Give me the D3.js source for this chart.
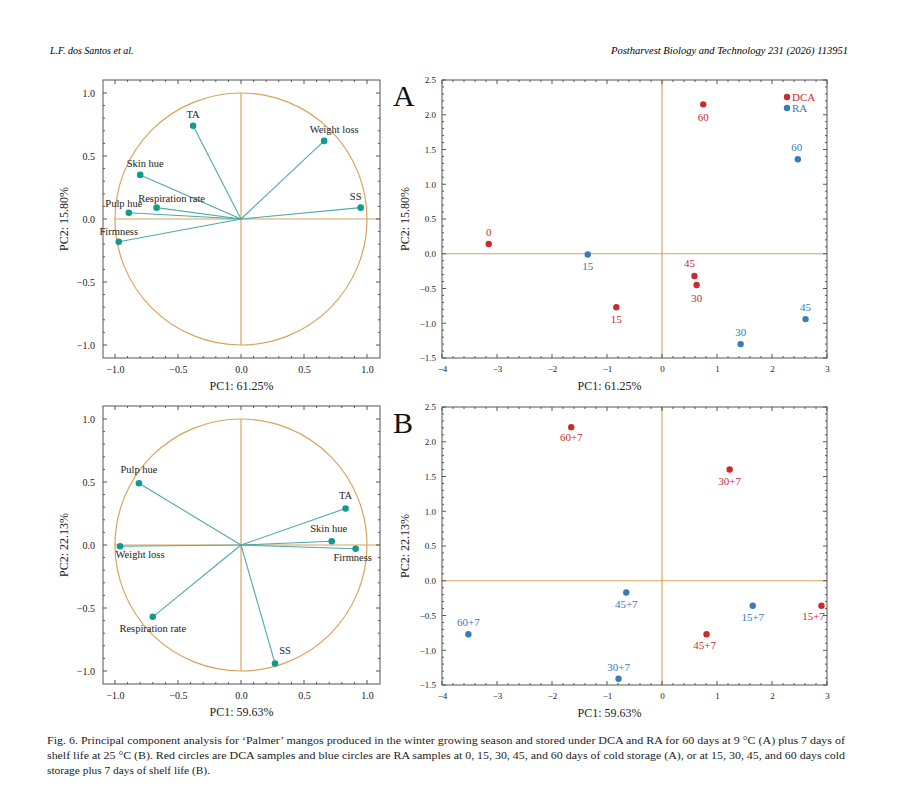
<!DOCTYPE html>
<html><head><meta charset="utf-8">
<script src="https://cdn.jsdelivr.net/npm/d3@7"></script>
<style>body{margin:0;background:#fff}svg{font-family:"Liberation Serif","DejaVu Serif",serif}</style>
</head><body><svg id="c" width="900" height="791"></svg>
<script>
const varsA = ["TA","Weight loss","Skin hue","Respiration rate","Pulp hue","SS","Firmness"];
const loadA_x = [-0.38,0.66,-0.80,-0.67,-0.89,0.95,-0.97];
const loadA_y = [0.74,0.62,0.35,0.09,0.05,0.09,-0.18];
const varsB = ["Pulp hue","TA","Skin hue","Firmness","Weight loss","Respiration rate","SS"];
const loadB_x = [-0.81,0.83,0.72,0.91,-0.96,-0.70,0.27];
const loadB_y = [0.49,0.29,0.03,-0.03,-0.01,-0.57,-0.94];
const labA_dcaNames = ["0","15","30","45","60"];
const scoreA_dca_x = [-3.15,-0.83,0.63,0.59,0.75];
const scoreA_dca_y = [0.14,-0.77,-0.45,-0.32,2.15];
const labA_raNames = ["15","30","45","60"];
const scoreA_ra_x = [-1.35,1.43,2.61,2.47];
const scoreA_ra_y = [-0.01,-1.30,-0.94,1.36];
const labB_dcaNames = ["15+7","30+7","45+7","60+7"];
const scoreB_dca_x = [2.90,1.23,0.81,-1.65];
const scoreB_dca_y = [-0.36,1.60,-0.77,2.21];
const labB_raNames = ["15+7","30+7","45+7","60+7"];
const scoreB_ra_x = [1.65,-0.79,-0.65,-3.52];
const scoreB_ra_y = [-0.36,-1.41,-0.17,-0.77];
const loadTicks = [-1.0,-0.5,0.0,0.5,1.0];
const scoreXTicks = [-4,-3,-2,-1,0,1,2,3];
const scoreYTicks = [-1.5,-1.0,-0.5,0.0,0.5,1.0,1.5,2.0,2.5];

// label placement (style): [dx, dy] in px
const posLoadA = [[0,-8],[10,-8],[5,-8],[15,-6],[-5,-6],[-5,-8],[0,-7]];
const posLoadB = [[0,-10],[0,-9],[-3,-9],[-3,12],[20,12],[0,15],[10,-9]];
const posAdca = [[0,-8],[0,16],[0,17],[-5,-9],[0,17]];
const posAra = [[0,16],[0,-8],[0,-8],[-1,-8]];
const posBdca = [[-8,14],[0,15],[-2,15],[0,14]];
const posBra = [[0,15],[0,-8],[0,15],[0,-8]];

const RED="#cc2b2b", BLUE="#3b79b8", TEAL="#139a8e", LINE="#4ea9a9", GOLD="#d9a45b";
const svg=d3.select("#c");
svg.append("text").attr("x",50).attr("y",54).attr("font-size",10).attr("font-style","italic").text("L.F. dos Santos et al.");
svg.append("text").attr("x",848).attr("y",54).attr("text-anchor","end").attr("font-size",10).attr("font-style","italic").attr("textLength",237).attr("lengthAdjust","spacingAndGlyphs").text("Postharvest Biology and Technology 231 (2026) 113951");

function frame(g,x0,x1,y0,y1){
  g.append("rect").attr("x",x0).attr("y",y0).attr("width",x1-x0).attr("height",y1-y0).attr("fill","none").attr("stroke","#555").attr("stroke-width",1);
}
function minor(g,x,y,xt,yt,x0,x1,y0,y1){
  const mx=[];for(let i=0;i<xt.length-1;i++)for(let k=1;k<5;k++)mx.push(xt[i]+(xt[i+1]-xt[i])*k/5);
  const my=[];for(let i=0;i<yt.length-1;i++)for(let k=1;k<5;k++)my.push(yt[i]+(yt[i+1]-yt[i])*k/5);
  mx.forEach(v=>{[y0,y1].forEach((yy,j)=>g.append("line").attr("x1",x(v)).attr("x2",x(v)).attr("y1",yy).attr("y2",yy+(j?-2:2)).attr("stroke","#555"));});
  my.forEach(v=>{[x0,x1].forEach((xx,j)=>g.append("line").attr("y1",y(v)).attr("y2",y(v)).attr("x1",xx).attr("x2",xx+(j?-2:2)).attr("stroke","#555"));});
  xt.forEach(v=>{[y0,y1].forEach((yy,j)=>g.append("line").attr("x1",x(v)).attr("x2",x(v)).attr("y1",yy).attr("y2",yy+(j?-4:4)).attr("stroke","#555"));});
  yt.forEach(v=>{[x0,x1].forEach((xx,j)=>g.append("line").attr("y1",y(v)).attr("y2",y(v)).attr("x1",xx).attr("x2",xx+(j?-4:4)).attr("stroke","#555"));});
}
function loadPanel(top,names,lx,ly,pos,xl,yl){
  const x0=103,x1=380,y0=top,y1=top+278;
  const x=d3.scaleLinear().domain([-1,1]).range([115,367]);
  const y=d3.scaleLinear().domain([-1,1]).range([top+265,top+13]);
  const g=svg.append("g");
  g.append("ellipse").attr("cx",x(0)).attr("cy",y(0)).attr("rx",x(1)-x(0)).attr("ry",y(-1)-y(0)).attr("fill","none").attr("stroke",GOLD).attr("stroke-width",1.2);
  g.append("line").attr("x1",x(-1)).attr("x2",x1).attr("y1",y(0)).attr("y2",y(0)).attr("stroke",GOLD).attr("stroke-width",1.2);
  g.append("line").attr("x1",x(0)).attr("x2",x(0)).attr("y1",y(1)).attr("y2",y(-1)).attr("stroke",GOLD).attr("stroke-width",1.2);
  frame(g,x0,x1,y0,y1);
  minor(g,x,y,loadTicks,loadTicks,x0,x1,y0,y1);
  g.append("g").attr("transform",`translate(0,${y1})`).call(d3.axisBottom(x).tickValues(loadTicks).tickFormat(d3.format(".1f")).tickSize(0).tickPadding(8)).call(a=>{a.select(".domain").remove();a.selectAll("text").attr("font-size",10).attr("font-family","Liberation Serif").attr("fill","#222");});
  g.append("g").attr("transform",`translate(${x0},0)`).call(d3.axisLeft(y).tickValues(loadTicks).tickFormat(d3.format(".1f")).tickSize(0).tickPadding(8)).call(a=>{a.select(".domain").remove();a.selectAll("text").attr("font-size",10).attr("font-family","Liberation Serif").attr("fill","#222");});
  names.forEach((n,i)=>{
    g.append("line").attr("x1",x(0)).attr("y1",y(0)).attr("x2",x(lx[i])).attr("y2",y(ly[i])).attr("stroke",LINE).attr("stroke-width",1.1);
  });
  names.forEach((n,i)=>{
    g.append("circle").attr("cx",x(lx[i])).attr("cy",y(ly[i])).attr("r",3.3).attr("fill",TEAL);
    g.append("text").attr("x",x(lx[i])+pos[i][0]).attr("y",y(ly[i])+pos[i][1]).attr("text-anchor","middle").attr("font-size",10.5).attr("fill","#222").text(n);
  });
  g.append("text").attr("x",(x0+x1)/2).attr("y",y1+32).attr("text-anchor","middle").attr("font-size",12).attr("fill","#222").text(xl);
  g.append("text").attr("transform",`translate(68,${(y0+y1)/2}) rotate(-90)`).attr("text-anchor","middle").attr("font-size",12).attr("fill","#222").text(yl);
}
function scorePanel(top,letter,dn,dx,dy,dp,rn,rx,ry,rp,xl,yl,legend){
  const x0=442,x1=827,y0=top,y1=top+278;
  const x=d3.scaleLinear().domain([-4,3]).range([x0,x1]);
  const y=d3.scaleLinear().domain([-1.5,2.5]).range([y1,y0]);
  const g=svg.append("g");
  g.append("line").attr("x1",x0).attr("x2",x1).attr("y1",y(0)).attr("y2",y(0)).attr("stroke",GOLD).attr("stroke-width",1.2);
  g.append("line").attr("x1",x(0)).attr("x2",x(0)).attr("y1",y0).attr("y2",y1).attr("stroke",GOLD).attr("stroke-width",1.2);
  frame(g,x0,x1,y0,y1);
  minor(g,x,y,scoreXTicks,scoreYTicks,x0,x1,y0,y1);
  g.append("g").attr("transform",`translate(0,${y1})`).call(d3.axisBottom(x).tickValues(scoreXTicks).tickFormat(d3.format("d")).tickSize(0).tickPadding(8)).call(a=>{a.select(".domain").remove();a.selectAll("text").attr("font-size",9).attr("font-family","Liberation Serif").attr("fill","#222");});
  g.append("g").attr("transform",`translate(${x0},0)`).call(d3.axisLeft(y).tickValues(scoreYTicks).tickFormat(d3.format(".1f")).tickSize(0).tickPadding(6)).call(a=>{a.select(".domain").remove();a.selectAll("text").attr("font-size",9).attr("font-family","Liberation Serif").attr("fill","#222");});
  const pts=(names,xs,ys,pos,col)=>names.forEach((n,i)=>{
    g.append("circle").attr("cx",x(xs[i])).attr("cy",y(ys[i])).attr("r",3.2).attr("fill",col);
    g.append("text").attr("x",x(xs[i])+pos[i][0]).attr("y",y(ys[i])+pos[i][1]).attr("text-anchor","middle").attr("font-size",11).attr("fill",col).text(n);
  });
  pts(dn,dx,dy,dp,RED); pts(rn,rx,ry,rp,BLUE);
  if(legend){
    [["DCA",RED],["RA",BLUE]].forEach((d,i)=>{
      g.append("circle").attr("cx",787).attr("cy",top+17+i*11).attr("r",3.2).attr("fill",d[1]);
      g.append("text").attr("x",792).attr("y",top+21+i*11).attr("font-size",11).attr("fill",d[1]).text(d[0]);
    });
  }
  g.append("text").attr("x",393).attr("y",top+26).attr("font-size",30).attr("fill","#111").text(letter);
  g.append("text").attr("x",(x0+x1)/2-25).attr("y",y1+32).attr("text-anchor","middle").attr("font-size",12).attr("fill","#222").text(xl);
  g.append("text").attr("transform",`translate(409,${(y0+y1)/2}) rotate(-90)`).attr("text-anchor","middle").attr("font-size",12).attr("fill","#222").text(yl);
}
loadPanel(80,varsA,loadA_x,loadA_y,posLoadA,"PC1: 61.25%","PC2: 15.80%");
loadPanel(406,varsB,loadB_x,loadB_y,posLoadB,"PC1: 59.63%","PC2: 22.13%");
scorePanel(80,"A",labA_dcaNames,scoreA_dca_x,scoreA_dca_y,posAdca,labA_raNames,scoreA_ra_x,scoreA_ra_y,posAra,"PC1: 61.25%","PC2: 15.80%",true);
scorePanel(407,"B",labB_dcaNames,scoreB_dca_x,scoreB_dca_y,posBdca,labB_raNames,scoreB_ra_x,scoreB_ra_y,posBra,"PC1: 59.63%","PC2: 22.13%",false);

const cap=["Fig. 6.  Principal component analysis for ‘Palmer’ mangos produced in the winter growing season and stored under DCA and RA for 60 days at 9 °C (A) plus 7 days of",
"shelf life at 25 °C (B). Red circles are DCA samples and blue circles are RA samples at 0, 15, 30, 45, and 60 days of cold storage (A), or at 15, 30, 45, and 60 days cold",
"storage plus 7 days of shelf life (B)."];
const capLen=[798,798,163];
cap.forEach((t,i)=>svg.append("text").attr("x",47).attr("y",744+i*15).attr("font-size",10.5).attr("fill","#222").attr("textLength",capLen[i]).attr("lengthAdjust","spacingAndGlyphs").text(t));
</script></body></html>
